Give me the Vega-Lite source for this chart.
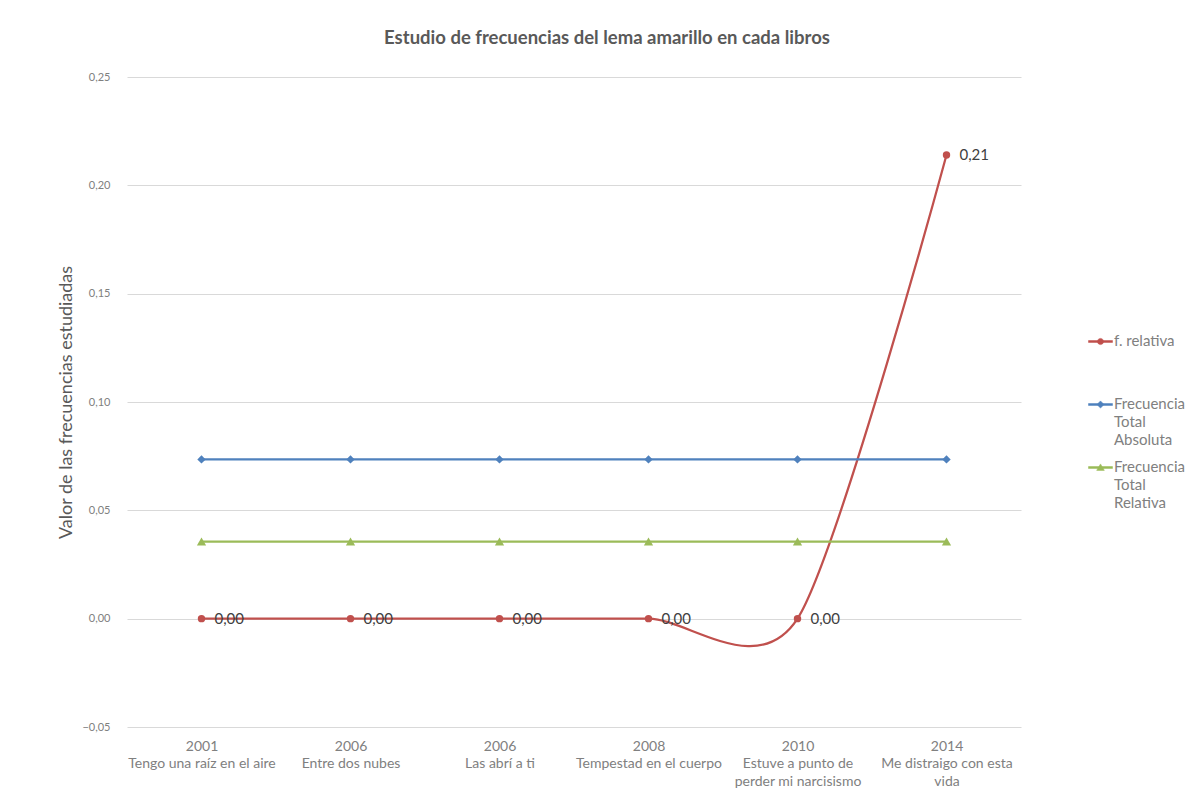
{
  "$schema": "https://vega.github.io/schema/vega-lite/v6.json",
  "autosize": "none",
  "width": 894,
  "height": 650,
  "padding": {"left": 127, "top": 77, "right": 174, "bottom": 62},
  "background": "white",
  "config": {
    "font": "Lato",
    "view": {"stroke": null},
    "locale": {
      "number": {"decimal": ",", "thousands": ".", "grouping": [3], "currency": ["", " €"]}
    }
  },
  "title": {
    "text": "Estudio de frecuencias del lema amarillo en cada libros",
    "fontSize": 18.5,
    "fontWeight": "bold",
    "color": "#595959",
    "anchor": "middle",
    "dx": 33,
    "offset": 24,
    "font": "Lato"
  },
  "data": {
    "values": [
      {"libro": "2001|Tengo una raíz en el aire", "serie": "f. relativa", "valor": 0},
      {"libro": "2006|Entre dos nubes", "serie": "f. relativa", "valor": 0},
      {"libro": "2006|Las abrí a ti", "serie": "f. relativa", "valor": 0},
      {"libro": "2008|Tempestad en el cuerpo", "serie": "f. relativa", "valor": 0},
      {"libro": "2010|Estuve a punto de|perder mi narcisismo", "serie": "f. relativa", "valor": 0},
      {"libro": "2014|Me distraigo con esta|vida", "serie": "f. relativa", "valor": 0.214},
      {"libro": "2001|Tengo una raíz en el aire", "serie": "Frecuencia Total Absoluta", "valor": 0.0735},
      {"libro": "2006|Entre dos nubes", "serie": "Frecuencia Total Absoluta", "valor": 0.0735},
      {"libro": "2006|Las abrí a ti", "serie": "Frecuencia Total Absoluta", "valor": 0.0735},
      {"libro": "2008|Tempestad en el cuerpo", "serie": "Frecuencia Total Absoluta", "valor": 0.0735},
      {"libro": "2010|Estuve a punto de|perder mi narcisismo", "serie": "Frecuencia Total Absoluta", "valor": 0.0735},
      {"libro": "2014|Me distraigo con esta|vida", "serie": "Frecuencia Total Absoluta", "valor": 0.0735},
      {"libro": "2001|Tengo una raíz en el aire", "serie": "Frecuencia Total Relativa", "valor": 0.0356},
      {"libro": "2006|Entre dos nubes", "serie": "Frecuencia Total Relativa", "valor": 0.0356},
      {"libro": "2006|Las abrí a ti", "serie": "Frecuencia Total Relativa", "valor": 0.0356},
      {"libro": "2008|Tempestad en el cuerpo", "serie": "Frecuencia Total Relativa", "valor": 0.0356},
      {"libro": "2010|Estuve a punto de|perder mi narcisismo", "serie": "Frecuencia Total Relativa", "valor": 0.0356},
      {"libro": "2014|Me distraigo con esta|vida", "serie": "Frecuencia Total Relativa", "valor": 0.0356}
    ]
  },
  "encoding": {
    "x": {
      "field": "libro",
      "type": "nominal",
      "sort": null,
      "scale": {"type": "point", "padding": 0.5},
      "axis": {
        "title": null,
        "labelAngle": 0,
        "labelExpr": "split(datum.label, '|')",
        "labelFontSize": 14,
        "labelColor": "#808080",
        "labelLineHeight": 17.5,
        "labelBaseline": "top",
        "labelPadding": 12,
        "labelLimit": 220,
        "domain": false,
        "ticks": false,
        "grid": false
      }
    },
    "y": {
      "field": "valor",
      "type": "quantitative",
      "scale": {"domain": [-0.05, 0.25], "nice": false, "zero": false},
      "axis": {
        "title": "Valor de las frecuencias estudiadas",
        "titleFontSize": 18,
        "titleFontWeight": "normal",
        "titleColor": "#595959",
        "titleX": -61,
        "titleY": 325,
        "titleAngle": -90,
        "titleAlign": "center",
        "titleBaseline": "middle",
        "values": [-0.05, 0, 0.05, 0.1, 0.15, 0.2, 0.25],
        "format": ".2f",
        "labelFontSize": 11,
        "labelColor": "#808080",
        "labelPadding": 17,
        "domain": false,
        "ticks": false,
        "grid": true,
        "gridColor": "#d9d9d9",
        "gridWidth": 1
      }
    },
    "color": {
      "field": "serie",
      "type": "nominal",
      "sort": ["f. relativa", "Frecuencia Total Absoluta", "Frecuencia Total Relativa"],
      "scale": {
        "domain": ["f. relativa", "Frecuencia Total Absoluta", "Frecuencia Total Relativa"],
        "range": ["#c0504d", "#4f81bd", "#9bbb59"]
      },
      "legend": {
        "orient": "none",
        "legendX": 961,
        "legendY": 252,
        "title": null,
        "gridAlign": "all",
        "rowPadding": 7,
        "symbolSize": 576,
        "labelFontSize": 15,
        "labelColor": "#808080",
        "labelOffset": 1,
        "labelLimit": 120,
        "labelBaseline": "top",
        "labelExpr": "datum.label == 'f. relativa' ? datum.label : split(datum.label, ' ')",
        "encode": {
          "labels": {
            "update": {"lineHeight": {"value": 18}, "dy": {"value": -8}}
          },
          "symbols": {
            "update": {
              "shape": {"signal": "datum.value == 'f. relativa' ? 'M-1,-0.08H1V0.08H-1Z M0.26,0A0.26,0.26 0 1,1 -0.26,0A0.26,0.26 0 1,1 0.26,0Z' : datum.value == 'Frecuencia Total Absoluta' ? 'M-1,-0.08H1V0.08H-1Z M0,-0.3L0.3,0L0,0.3L-0.3,0Z' : 'M-1,-0.08H1V0.08H-1Z M0,-0.3L0.32,0.24H-0.32Z'"},
              "fill": {"signal": "scale('color', datum.value)"},
              "stroke": {"signal": "scale('color', datum.value)"},
              "strokeWidth": {"value": 0.5},
              "opacity": {"value": 1},
              "fillOpacity": {"value": 1}
            }
          }
        }
      }
    }
  },
  "layer": [
    {
      "mark": {"type": "line", "interpolate": "cardinal", "tension": 0.2, "strokeWidth": 2.25}
    },
    {
      "transform": [{"filter": "datum.serie == 'f. relativa'"}],
      "mark": {"type": "point", "filled": true, "opacity": 1, "shape": "circle", "size": 55}
    },
    {
      "transform": [{"filter": "datum.serie == 'Frecuencia Total Absoluta'"}],
      "mark": {"type": "point", "filled": true, "opacity": 1, "shape": "diamond", "size": 70}
    },
    {
      "transform": [{"filter": "datum.serie == 'Frecuencia Total Relativa'"}],
      "mark": {"type": "point", "filled": true, "opacity": 1, "shape": "triangle-up", "size": 85}
    },
    {
      "transform": [{"filter": "datum.serie == 'f. relativa'"}],
      "mark": {"type": "text", "align": "left", "baseline": "middle", "dx": 13, "fontSize": 15, "color": "#404040"},
      "encoding": {
        "text": {"field": "valor", "type": "quantitative", "format": ".2f"},
        "color": {"value": "#404040"}
      }
    }
  ]
}
